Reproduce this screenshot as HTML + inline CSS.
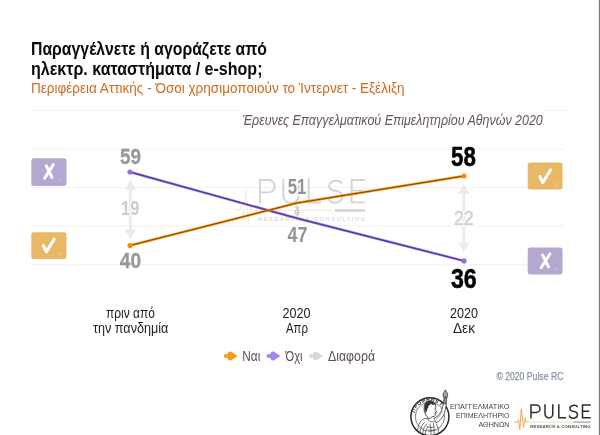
<!DOCTYPE html>
<html lang="el">
<head>
<meta charset="utf-8">
<title>Pulse RC</title>
<style>
  html, body { margin: 0; padding: 0; background: #ffffff; }
  body { width: 600px; height: 435px; overflow: hidden; font-family: "Liberation Sans", sans-serif; }
  svg { display: block; }
  text { font-family: "Liberation Sans", sans-serif; }
</style>
</head>
<body>
<div id="wrap" style="width:600px;height:435px;will-change:transform;transform:translateZ(0);">
<svg width="600" height="435" viewBox="0 0 600 435">
  <rect x="0" y="0" width="600" height="435" fill="#ffffff"/>

  <!-- right edge line -->
  <rect x="599" y="0" width="1" height="435" fill="#7d7d7d"/>
  <rect x="598" y="0" width="1" height="435" fill="#e4e4e4"/>

  <!-- gridlines -->
  <g stroke="#f2f2f4" stroke-width="1.200">
    <line x1="31" y1="110.5" x2="566" y2="110.5"/>
    <line x1="31" y1="149" x2="564" y2="149"/>
    <line x1="31" y1="187.5" x2="564" y2="187.5"/>
    <line x1="31" y1="226" x2="564" y2="226"/>
    <line x1="31" y1="264.800" x2="564" y2="264.800"/>
  </g>

  <!-- title -->
  <text x="31" y="55" font-size="18" font-weight="bold" fill="#0a0a0a" textLength="236" lengthAdjust="spacingAndGlyphs">Παραγγέλνετε ή αγοράζετε από</text>
  <text x="31" y="75" font-size="18" font-weight="bold" fill="#0a0a0a" textLength="231.500" lengthAdjust="spacingAndGlyphs">ηλεκτρ. καταστήματα / e-shop;</text>
  <text x="31" y="93.400" font-size="14.500" fill="#d2691e" textLength="373.500" lengthAdjust="spacingAndGlyphs">Περιφέρεια Αττικής - Όσοι χρησιμοποιούν το Ίντερνετ - Εξέλιξη</text>

  <!-- source -->
  <rect x="238" y="104" width="308" height="26" fill="#ffffff"/>
  <text x="242.300" y="124.600" font-size="14.500" font-style="italic" fill="#665656" textLength="300.500" lengthAdjust="spacingAndGlyphs">Έρευνες Επαγγελματικού Επιμελητηρίου Αθηνών 2020</text>

  <!-- watermark -->
  <g id="wm">
    <g fill="none" stroke="#d3d3d3" stroke-width="1.900">
      <path d="M260 203.500 V180 H268.500 a6.200 6.200 0 0 1 0 12.400 H260"/>
      <path d="M283.300 179 V195.400 a7.700 7.700 0 0 0 15.400 0 V179"/>
      <path d="M308.700 178.500 V202.500 H321"/>
      <path d="M342 183.500 a6.800 5 0 1 0 -6.200 7.300 a7 6 0 1 1 -7.400 7.200"/>
      <path d="M364.700 180 H351.600 V202.400 H364.700 M351.600 190.600 H362.500"/>
    </g>
    <path d="M234 210 h6 l1.500 -6 l2 16 l2.500 -30 l2.500 34 l2 -18 l1.500 4 h6" fill="none" stroke="#fce8d6" stroke-width="1"/>
    <line x1="258" y1="210.300" x2="332" y2="210.300" stroke="#fae6d4" stroke-width="1"/>
    <rect x="335" y="209" width="30" height="2.800" fill="#d9d9dc"/>
    <text x="258" y="221.300" font-size="5.800" fill="#cdcdcd" textLength="107" lengthAdjust="spacing">RESEARCH &amp; CONSULTING</text>
  </g>

  <!-- difference arrows -->
  <g fill="#ebebeb" stroke="none">
    <rect x="128.800" y="188" width="3" height="44"/>
    <path d="M130.300 180 l5.500 9.800 h-11 z"/>
    <path d="M130.300 239.600 l5.500 -9.800 h-11 z"/>
    <rect x="462.300" y="192" width="3" height="53"/>
    <path d="M463.800 184 l5.500 9.800 h-11 z"/>
    <path d="M463.800 252.600 l5.500 -9.800 h-11 z"/>
    <!-- tiny middle -->
    <path d="M297 204.500 l2.500 3.500 h-5 z" fill="#dcdcdc"/>
    <path d="M297 217.500 l2.500 -3.500 h-5 z" fill="#dcdcdc"/>
  </g>
  <text x="130.200" y="215.200" font-size="20.400" font-weight="bold" fill="#cdcdcd" stroke="#ffffff" stroke-width="2.500" stroke-linejoin="round" paint-order="stroke" text-anchor="middle" textLength="18.300" lengthAdjust="spacingAndGlyphs">19</text>
  <text x="463.850" y="224.900" font-size="20.400" fill="#ffffff" stroke="#ffffff" stroke-width="3" stroke-linejoin="round" text-anchor="middle" textLength="19.700" lengthAdjust="spacingAndGlyphs">22</text>
  <text x="463.850" y="224.900" font-size="20.400" fill="#d2d2d2" stroke="#d2d2d2" stroke-width="0.700" text-anchor="middle" textLength="19.700" lengthAdjust="spacingAndGlyphs">22</text>
  <text x="297" y="214.500" font-size="10" font-weight="bold" fill="#c6c6c6" text-anchor="middle" textLength="5.500" lengthAdjust="spacingAndGlyphs">4</text>

  <!-- lines -->
  <g fill="none" stroke-linejoin="round" stroke-linecap="round">
    <polyline points="130,172 297,218.300 464,260.900" stroke="#9471e6" stroke-width="2.500"/>
    <polyline points="130,172 297,218.300 464,260.900" stroke="#3d2a85" stroke-width="0.900"/>
    <polyline points="130,245.500 297,203 464,176" stroke="#fb9415" stroke-width="2.500"/>
    <polyline points="130,245.500 297,203 464,176" stroke="#6e3d00" stroke-width="0.900"/>
  </g>
  <circle cx="130" cy="172" r="2.600" fill="#9370db"/>
  <circle cx="464" cy="260.900" r="2.600" fill="#9370db"/>
  <circle cx="130" cy="245.500" r="2.600" fill="#ff8c00"/>
  <circle cx="464" cy="176" r="2.600" fill="#ff8c00"/>

  <!-- value labels -->
  <g font-weight="bold" text-anchor="middle">
    <text x="130.500" y="163.800" font-size="22.500" fill="#999999" stroke="#999999" stroke-width="0.350" textLength="21" lengthAdjust="spacingAndGlyphs">59</text>
    <text x="130.500" y="268.100" font-size="22.500" fill="#999999" stroke="#999999" stroke-width="0.350" textLength="21.300" lengthAdjust="spacingAndGlyphs">40</text>
    <text x="297" y="194.200" font-size="22.500" fill="#929292" stroke="#ffffff" stroke-width="3" stroke-linejoin="round" paint-order="stroke" textLength="18.600" lengthAdjust="spacingAndGlyphs">51</text>
    <text x="297.400" y="241.500" font-size="22.500" fill="#929292" stroke="#ffffff" stroke-width="3" stroke-linejoin="round" paint-order="stroke" textLength="19.900" lengthAdjust="spacingAndGlyphs">47</text>
    <text x="463.400" y="165.600" font-size="28.400" fill="#000000" stroke="#000000" stroke-width="0.500" textLength="24.800" lengthAdjust="spacingAndGlyphs">58</text>
    <text x="463.850" y="287.700" font-size="28.400" fill="#000000" stroke="#000000" stroke-width="0.500" textLength="25.800" lengthAdjust="spacingAndGlyphs">36</text>
  </g>

  <!-- icon boxes -->
  <rect x="31.300" y="158.300" width="35.200" height="27.600" rx="2.500" fill="#b5a8d0"/>
  <rect x="31.300" y="232.300" width="35.200" height="26.700" rx="2.500" fill="#e8b865"/>
  <rect x="527.700" y="162.600" width="34.800" height="27" rx="2.500" fill="#e8b865"/>
  <rect x="527.700" y="247.400" width="34.800" height="27.200" rx="2.500" fill="#b5a8d0"/>
  <g fill="none" stroke="#ffffff" stroke-width="3" stroke-linecap="round" stroke-linejoin="round">
    <!-- x left -->
    <path d="M53.300 164.600 L44.700 178.300 M46.200 165.800 L52 177.300"/>
    <!-- check left -->
    <path d="M43.400 245.600 L46.300 252 L54.200 239"/>
    <!-- check right -->
    <path d="M539.800 176.400 L542.700 182.700 L550.600 169.800"/>
    <!-- x right -->
    <path d="M549.800 254 L541.200 267.700 M542.700 255.200 L548.500 266.800"/>
  </g>
  <g fill="none" stroke="#ffffff" stroke-width="0.900" stroke-linecap="round" stroke-linejoin="round" opacity="0.350">
    <path d="M58.300 180 l1 1.300 l2.200 -3"/>
    <path d="M58.300 253.500 l1 1.300 l2.200 -3"/>
    <path d="M554.500 184 l1 1.300 l2.200 -3"/>
    <path d="M554.500 269 l1 1.300 l2.200 -3"/>
  </g>

  <!-- axis labels -->
  <g font-size="14" fill="#1e1e1e" text-anchor="middle">
    <text x="130.500" y="317.700" textLength="49" lengthAdjust="spacingAndGlyphs">πριν από</text>
    <text x="130.700" y="332.900" textLength="75.400" lengthAdjust="spacingAndGlyphs">την πανδημία</text>
    <text x="296.500" y="317.700" textLength="28" lengthAdjust="spacingAndGlyphs">2020</text>
    <text x="297" y="332.900" textLength="22" lengthAdjust="spacingAndGlyphs">Απρ</text>
    <text x="464" y="317.700" textLength="28" lengthAdjust="spacingAndGlyphs">2020</text>
    <text x="464" y="332.900" textLength="22" lengthAdjust="spacingAndGlyphs">Δεκ</text>
  </g>

  <!-- legend -->
  <g>
    <g id="mk1" fill="#ff9718" stroke="none">
      <rect x="224.000" y="354.200" width="7" height="3.600" rx="0.800"/>
      <path d="M227.300 356 Q227.300 351.300 230.800 351.500 L237.600 356 L230.800 360.500 Q227.300 360.700 227.300 356 Z"/>
    </g>
    <g id="mk2" fill="#a583f2" stroke="none">
      <rect x="266.800" y="354.200" width="7" height="3.600" rx="0.800"/>
      <path d="M270.100 356 Q270.100 351.300 273.600 351.500 L280.400 356 L273.600 360.500 Q270.100 360.700 270.100 356 Z"/>
    </g>
    <g id="mk3" fill="#d9d9d9" stroke="none">
      <rect x="309.300" y="354.200" width="7" height="3.600" rx="0.800"/>
      <path d="M312.600 356 Q312.600 351.300 316.100 351.500 L322.900 356 L316.100 360.500 Q312.600 360.700 312.600 356 Z"/>
    </g>
    <g font-size="14" fill="#5f5050">
      <text x="242.300" y="360.700" textLength="18" lengthAdjust="spacingAndGlyphs">Ναι</text>
      <text x="285.500" y="360.700" textLength="17" lengthAdjust="spacingAndGlyphs">Όχι</text>
      <text x="328" y="360.700" textLength="47" lengthAdjust="spacingAndGlyphs">Διαφορά</text>
    </g>
  </g>

  <!-- copyright -->
  <text x="496.400" y="379.700" font-size="11" fill="#8792a0" stroke="#8792a0" stroke-width="0.250" textLength="67" lengthAdjust="spacingAndGlyphs">© 2020 Pulse RC</text>

  <!-- chamber emblem -->
  <g id="emblem">
    <circle cx="429.900" cy="416.700" r="19" fill="#ffffff" stroke="#2a2a2a" stroke-width="1.500"/>
    <circle cx="429.900" cy="416.700" r="14.600" fill="none" stroke="#4a4a4a" stroke-width="0.700"/>
    <!-- lettering between rings -->
    <g font-size="5" font-weight="bold" fill="#2a2a2a" text-anchor="middle">
      <text x="415.32" y="411.27" transform="rotate(290.0 415.32 411.27)">Π</text>
      <text x="417.32" y="407.51" transform="rotate(306.0 417.32 407.51)">Ρ</text>
      <text x="420.28" y="404.44" transform="rotate(322.0 420.28 404.44)">Ο</text>
      <text x="423.97" y="402.31" transform="rotate(338.0 423.97 402.31)">Μ</text>
      <text x="428.10" y="401.28" transform="rotate(354.0 428.10 401.28)">Η</text>
      <text x="432.36" y="401.43" transform="rotate(370.0 432.36 401.43)">Θ</text>
      <text x="436.41" y="402.75" transform="rotate(386.0 436.41 402.75)">Ε</text>
      <text x="439.94" y="405.13" transform="rotate(402.0 439.94 405.13)">Υ</text>
      <text x="442.68" y="408.39" transform="rotate(418.0 442.68 408.39)">Σ</text>
    </g>
    <!-- drapery / body -->
    <g fill="none" stroke="#3a3a3a" stroke-width="0.700" stroke-linecap="round">
      <path d="M417.500 431 q0.500 -8 5 -11.500 q2.500 -1.800 4.500 -1"/>
      <path d="M420 432.500 q0.500 -7 4.500 -10"/>
      <path d="M422.500 433.500 q0.800 -6.500 4 -9.500"/>
      <path d="M425 434.500 q0.500 -5 2.800 -8"/>
      <path d="M427.500 419.500 q3 3.500 6.500 2.500"/>
      <path d="M430 424 q1.500 4.500 1 10.500"/>
      <path d="M433.500 423.500 q1 5 0.500 10.500"/>
      <path d="M436.500 424 q2.500 4 2 9"/>
      <path d="M428 427 q3 1 6 0"/>
      <path d="M428.500 430 q3 1 6.500 0"/>
    </g>
    <!-- head -->
    <g transform="translate(429.7 409.5) scale(1.18) translate(-429.7 -409.5)">
    <path d="M425 406.500 q1 -4.200 5 -4.200 q4.200 0.200 4.800 4 q0.300 1.800 -0.700 3 l1.600 2.400 l-1.500 0.500 l0.200 2.200 q-0.600 1.500 -2.600 1.200 q-1.300 1.600 -3.400 1.800 q-0.600 -2.200 -2 -3.200 q-2 -3.200 -1.400 -7.700 z" fill="#ffffff" stroke="#2e2e2e" stroke-width="0.700"/>
    <path d="M425.200 406.600 q0.800 -4 4.800 -4.200 q4 0 4.800 3.600 q-1.400 -1.400 -2.600 -0.400 q-1.300 -1.400 -2.600 0 q-1.400 0.600 -1.200 2.400 q-1.400 0.800 -0.800 2.600 q-1.300 0.500 -0.900 2.400 q-2 -2.600 -1.500 -6.400 z" fill="#3a3a3a"/>
    <path d="M426 404.500 q1.500 -2.500 4.500 -2 M427.200 407 q0.500 -2.200 2.800 -2.600 M426.400 409.600 q0.200 -1.800 1.800 -2.400" fill="none" stroke="#1e1e1e" stroke-width="0.800"/>
    </g>
    <!-- raised arm -->
    <path d="M433.800 418.600 q5 -2 7.600 -7.500 l2.400 -8.300 l2.700 0.700 l-1.800 9 q-2.500 7.500 -8.500 10.300 z" fill="#ffffff" stroke="#2e2e2e" stroke-width="0.750" stroke-linejoin="round"/>
    <path d="M436 419 q4.500 -2.500 6.500 -8" fill="none" stroke="#555555" stroke-width="0.500"/>
    <!-- torch -->
    <path d="M443.300 403.400 l0.800 -6.400 l2.600 0.500 l-0.500 6.500 z" fill="#8a8a8a" stroke="#2a2a2a" stroke-width="0.600"/>
    <path d="M443.700 397.200 q-1.800 -3 0.400 -5 q0.600 -1.600 1.400 -2.400 q0.400 1.600 1.400 2.400 q1.600 2.400 0.200 5.400 z" fill="#a5a5a5" stroke="#2a2a2a" stroke-width="0.700"/>
  </g>
  <g font-size="7.300" fill="#454545" text-anchor="end">
    <text x="509.500" y="409.200" textLength="59.500" lengthAdjust="spacingAndGlyphs">ΕΠΑΓΓΕΛΜΑΤΙΚΟ</text>
    <text x="509.500" y="418.400" textLength="53.500" lengthAdjust="spacingAndGlyphs">ΕΠΙΜΕΛΗΤΗΡΙΟ</text>
    <text x="509.500" y="427.300" textLength="31" lengthAdjust="spacingAndGlyphs">ΑΘΗΝΩΝ</text>
  </g>

  <!-- pulse logo -->
  <g id="pulse">
    <g fill="none" stroke="#2b2b2b" stroke-width="1.500">
      <path d="M531 418.600 V405 H536.300 a3.700 3.700 0 0 1 0 7.400 H531"/>
      <path d="M545 404.200 V413.800 a3.900 4.200 0 0 0 7.800 0 V404.200"/>
      <path d="M558.800 404.200 V417.800 H566"/>
      <path d="M577.600 407.200 a4 3 0 1 0 -3.800 4.200 a4.100 3.400 0 1 1 -4.500 4"/>
      <path d="M590.700 405 H582.500 V417.800 H590.700 M582.500 411.200 H589.200"/>
    </g>
    <path d="M514.200 422.200 h3.600 l0.800 -2.500 l1.200 10 l1.500 -21 l2.200 18.600 l1.600 -9.500 l1 4.200 h1.600" fill="none" stroke="#f0a040" stroke-width="0.900" stroke-linejoin="round"/>
    <line x1="527.500" y1="422" x2="572.500" y2="422" stroke="#f6dcae" stroke-width="0.900"/>
    <rect x="573.500" y="421.300" width="17" height="1.600" fill="#b4b4b8"/>
    <text x="530.200" y="428.300" font-size="4.300" font-weight="bold" fill="#505050" textLength="60.500" lengthAdjust="spacing">RESEARCH &amp; CONSULTING</text>
  </g>
</svg>
</div>
</body>
</html>
